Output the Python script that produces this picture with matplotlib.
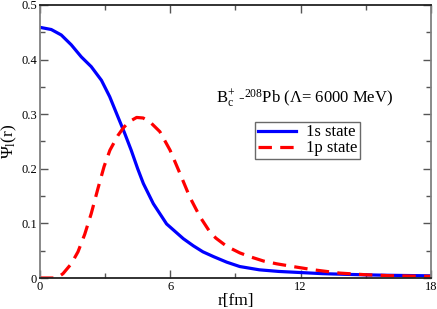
import numpy as np
import matplotlib.pyplot as plt

# values
r_1s = [0.0, 0.52, 0.98, 1.44, 1.90, 2.36, 2.83, 3.21, 3.59, 3.90, 4.20, 4.50,
        4.76, 5.22, 5.83, 6.6, 7.06, 7.5, 8.0, 8.6, 9.2, 10.1, 11.0, 12.0, 13.0,
        14.0, 15.0, 16.0, 17.0, 18.0]
psi_1s = [0.459, 0.455, 0.445, 0.427, 0.405, 0.387, 0.362, 0.332, 0.295, 0.265,
          0.234, 0.200, 0.173, 0.136, 0.099, 0.072, 0.059, 0.048, 0.039, 0.029,
          0.021, 0.015, 0.012, 0.010, 0.008, 0.0068, 0.0058, 0.0050, 0.0045, 0.0040]

r_1p = [0.0, 0.4, 0.7, 0.85, 1.06, 1.44, 1.75, 2.06, 2.36, 2.67, 2.95, 3.22, 3.59,
        3.84, 4.1, 4.45, 4.75, 5.06, 5.52, 5.99, 6.45, 6.9, 7.37, 7.83, 8.1, 8.6,
        9.2, 9.67, 10.3, 10.9, 11.8, 12.6, 13.8, 15.0, 16.1, 17.0, 18.0]
psi_1p = [0.0, 0.0, 0.0, 0.002, 0.008, 0.026, 0.048, 0.080, 0.118, 0.164, 0.204,
          0.234, 0.261, 0.275, 0.286, 0.294, 0.293, 0.286, 0.268, 0.234, 0.191,
          0.148, 0.112, 0.084, 0.073, 0.058, 0.046, 0.039, 0.031, 0.026, 0.020,
          0.015, 0.009, 0.006, 0.0042, 0.0035, 0.003]

plt.rcParams['font.family'] = ['Liberation Serif', 'DejaVu Serif']
plt.rcParams['mathtext.fontset'] = 'custom'
plt.rcParams['mathtext.rm'] = 'Liberation Serif'
plt.rcParams['mathtext.it'] = 'Liberation Serif'

fig = plt.figure(figsize=(4.37, 3.09), dpi=100)
ax = fig.add_axes([0.0915, 0.1003, 0.8945, 0.8837])

ax.plot(r_1s, psi_1s, color='#0000ff', lw=2.3, solid_joinstyle='round',
        label='1s state')
ax.plot(r_1p, psi_1p, color='#ff0000', lw=2.3, dashes=(4.2, 2.6),
        dash_joinstyle='round', label='1p state')

ax.set_xlim(0, 18)
ax.set_ylim(0, 0.5)
ax.set_xticks([0, 6, 12, 18])
ax.set_xticks([3, 9, 15], minor=True)
ax.set_yticks([0, 0.1, 0.2, 0.3, 0.4, 0.5])
ax.set_yticklabels(['0', '0.1', '0.2', '0.3', '0.4', '0.5'])
ax.set_yticks(np.arange(0.05, 0.5, 0.1), minor=True)
ax.tick_params(which='both', direction='in', top=True, right=True,
               labelsize=9, pad=2, color='#555555')
ax.tick_params(which='major', length=6, width=1)
ax.tick_params(which='minor', length=3.5, width=1)

for side in ['left', 'right']:
    ax.spines[side].set_color('#808080')
    ax.spines[side].set_linewidth(1.3)
for side in ['top', 'bottom']:
    ax.spines[side].set_color('#222222')
    ax.spines[side].set_linewidth(1.3)

ax.set_xlabel('r[fm]', fontsize=12.5, labelpad=0)
ax.set_ylabel(r'$\Psi_{\rm l}$(r)', fontsize=12.5, labelpad=2)

ax.text(216 / 437, 1 - 103 / 309,
        r'B$^{+}_{\rm c}$ -$^{208}$Pb ($\Lambda$= 6000 MeV)',
        transform=fig.transFigure, fontsize=12, va='baseline', ha='left')

leg = ax.legend(loc='upper left', bbox_to_anchor=(255 / 437, 1 - 122 / 309),
                bbox_transform=fig.transFigure, fontsize=12, frameon=True,
                fancybox=False, handlelength=2.3, handletextpad=0.6,
                borderpad=0.15, labelspacing=0.0, borderaxespad=0)
leg.get_frame().set_edgecolor('#444444')
leg.get_frame().set_linewidth(1.0)

fig.savefig('out.png', dpi=100)
